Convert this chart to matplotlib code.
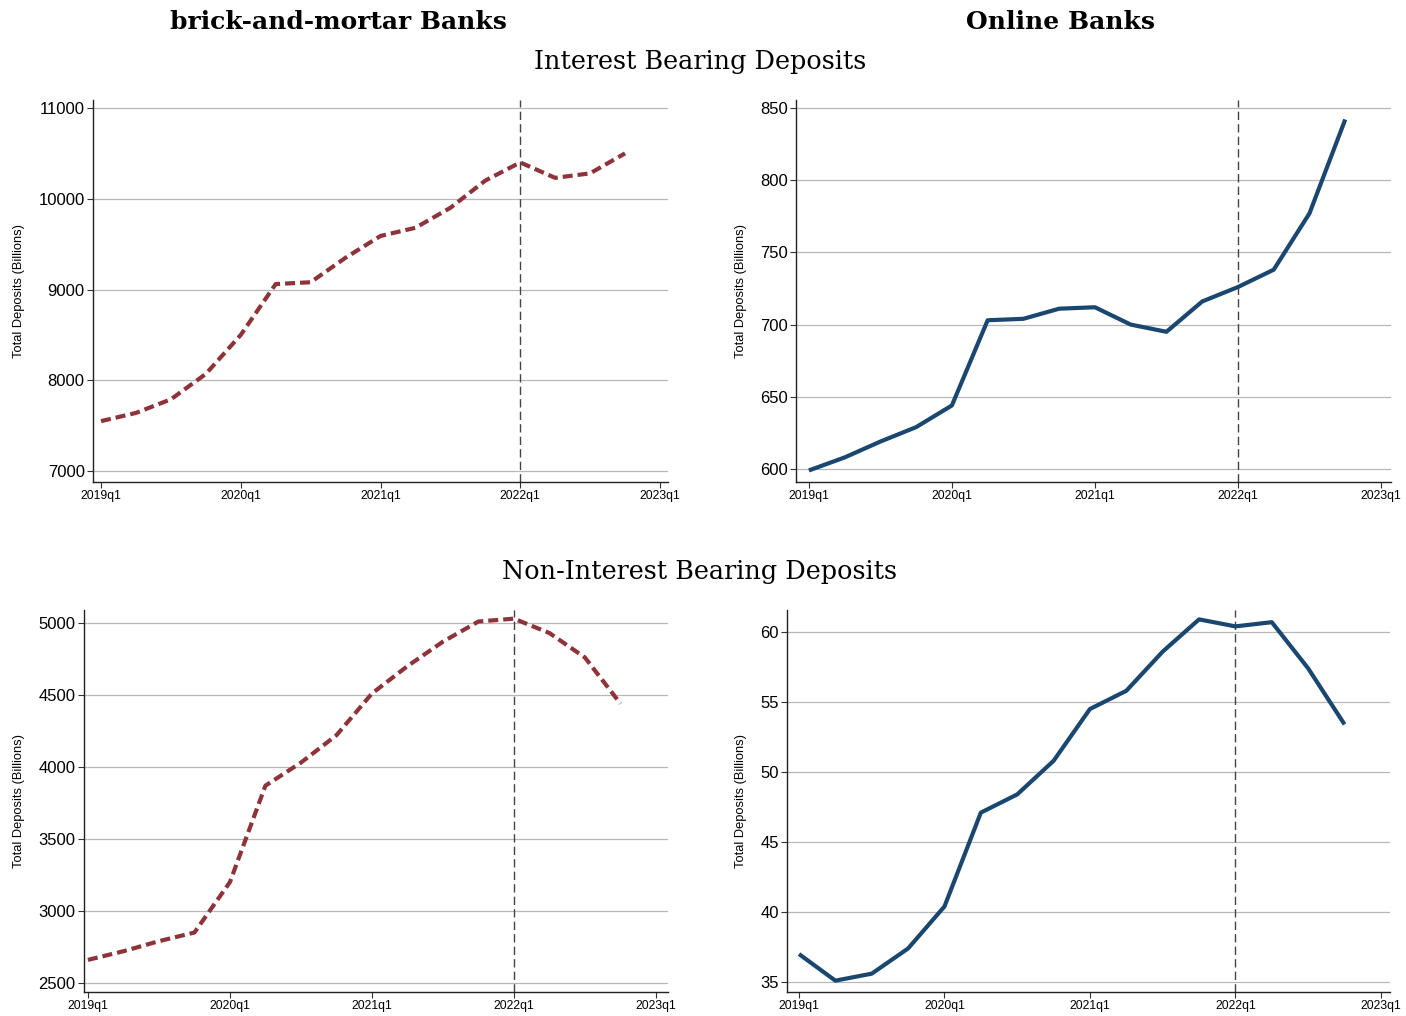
import matplotlib
matplotlib.use("Agg")
import matplotlib.pyplot as plt
import numpy as np

# quarters 2019q1 .. 2022q4
quarters = np.arange(16)
tick_pos = [0, 4, 8, 12, 16]
tick_labels = ["2019q1", "2020q1", "2021q1", "2022q1", "2023q1"]

brick_int = [7550, 7640, 7790, 8070, 8500, 9060, 9080, 9350,
             9590, 9680, 9900, 10200, 10400, 10230, 10280, 10500]
online_int = [599, 608, 619, 629, 644, 703, 704, 711,
              712, 700, 695, 716, 726, 738, 777, 842]
brick_nonint = [2660, 2720, 2790, 2850, 3200, 3870, 4030, 4220,
                4510, 4700, 4870, 5010, 5030, 4930, 4760, 4440]
online_nonint = [37.0, 35.1, 35.6, 37.4, 40.4, 47.1, 48.4, 50.8,
                 54.5, 55.8, 58.6, 60.9, 60.4, 60.7, 57.4, 53.4]

MAROON = "#8e3339"
NAVY = "#1a476f"
SERIF = "DejaVu Serif"
SANS = "Liberation Sans"

W, H = 1406, 1016
fig = plt.figure(figsize=(W / 100, H / 100), dpi=100)


def px_axes(left, top, right, bottom):
    return fig.add_axes([left / W, 1 - bottom / H, (right - left) / W, (bottom - top) / H])


panels = [
    # (pixel box, data, color, dashed, yticks, ylim, xlim, ylabel x px)
    ((93, 100, 668, 482), brick_int, MAROON, True,
     [7000, 8000, 9000, 10000, 11000], (6879, 11088), (-0.23, 16.23), 25),
    ((796, 100, 1391, 482), online_int, NAVY, False,
     [600, 650, 700, 750, 800, 850], (591, 855.5), (-0.36, 16.28), 747),
    ((84, 610, 668, 992), brick_nonint, MAROON, True,
     [2500, 3000, 3500, 4000, 4500, 5000], (2437, 5090), (-0.11, 16.34), 25),
    ((787, 610, 1390, 992), online_nonint, NAVY, False,
     [35, 40, 45, 50, 55, 60], (34.29, 61.57), (-0.33, 16.25), 747),
]

for box, vals, color, dashed, yticks, ylim, xlim, lab_x in panels:
    ax = px_axes(*box)
    ax.set_xlim(*xlim)
    ax.set_ylim(*ylim)
    ax.set_yticks(yticks)
    ax.set_xticks(tick_pos)
    ax.set_xticklabels(tick_labels, fontsize=8.8, family=SANS)
    for lab in ax.get_yticklabels():
        lab.set_fontsize(12)
        lab.set_family(SANS)
    ax.grid(axis="y", color="#b8b8b8", linewidth=0.9)
    ax.set_axisbelow(True)
    for s in ["top", "right"]:
        ax.spines[s].set_visible(False)
    for s in ["left", "bottom"]:
        ax.spines[s].set_linewidth(1.0)
        ax.spines[s].set_color("#222222")
    ax.tick_params(axis="both", length=4, width=0.8, color="#333333", pad=2)
    ax.set_ylabel("Total Deposits (Billions)", fontsize=9.3, family=SANS)
    yc = 1 - ((box[1] + box[3]) / 2) / H
    ax.yaxis.set_label_coords(lab_x / W, yc, transform=fig.transFigure)
    ax.axvline(12, color="#444444", linewidth=1.0, linestyle=(0, (6, 3)))
    if dashed:
        ax.plot(quarters, vals, color=color, linewidth=3, linestyle=(0, (2.4, 1.2)))
    else:
        ax.plot(quarters, vals, color=color, linewidth=3, solid_capstyle="butt")

fig.text(338 / W, 1 - 22 / H, "brick-and-mortar Banks", ha="center", va="center",
         fontsize=18, fontweight="bold", family=SERIF)
fig.text(1061 / W, 1 - 22 / H, "Online Banks", ha="center", va="center",
         fontsize=18, fontweight="bold", family=SERIF)
fig.text(700 / W, 1 - 62 / H, "Interest Bearing Deposits", ha="center", va="center",
         fontsize=18.4, family=SERIF)
fig.text(700 / W, 1 - 572 / H, "Non-Interest Bearing Deposits", ha="center", va="center",
         fontsize=18.4, family=SERIF)

fig.savefig("out.png", dpi=100)
